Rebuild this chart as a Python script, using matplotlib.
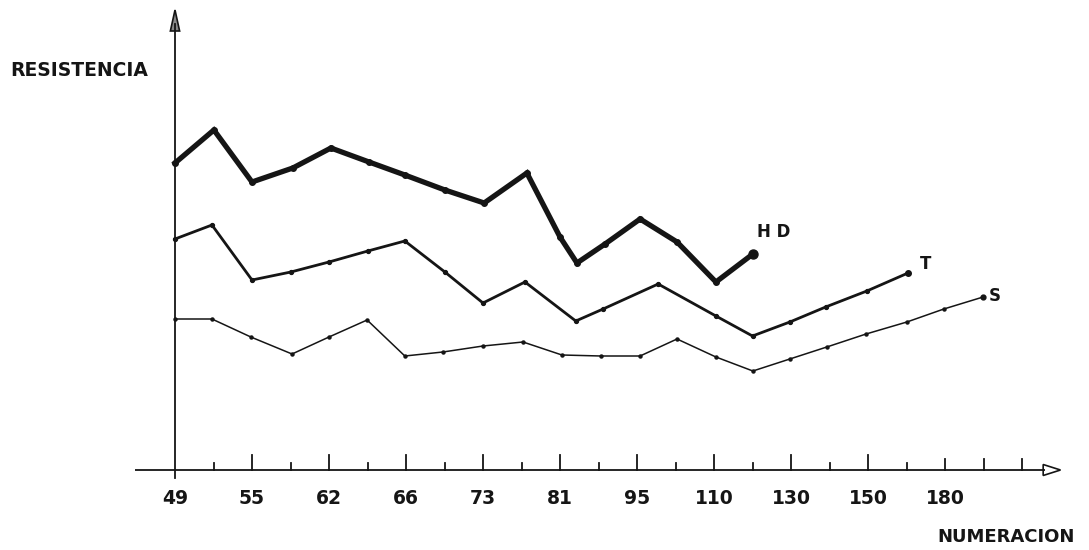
import matplotlib
matplotlib.use("Agg")
import matplotlib.pyplot as plt
from matplotlib.patches import Polygon

# ---- data (x in tick-index units, y in arbitrary resistance units) ----
tick_labels = ["49", "55", "62", "66", "73", "81", "95", "110", "130", "150", "180"]
n_ticks = 23  # tick marks along the x axis (labels on every second one)

hd_x = [0, 1.01, 2, 3.06, 4.05, 5.04, 5.97, 7.01, 8.03, 9.14, 10.0, 10.44, 11.17, 12.08, 13.04, 14.05, 15.01]
hd_y = [30.7, 34.0, 28.8, 30.2, 32.2, 30.8, 29.5, 28.0, 26.7, 29.7, 23.3, 20.7, 22.6, 25.1, 22.8, 18.8, 21.6]

t_x = [0, 0.96, 2.0, 3.01, 4.0, 5.01, 5.97, 7.01, 8.0, 9.09, 10.41, 11.12, 12.55, 14.05, 15.0, 15.97, 16.9, 17.97, 19.04]
t_y = [23.1, 24.5, 19.0, 19.8, 20.8, 21.9, 22.9, 19.8, 16.7, 18.8, 14.9, 16.1, 18.6, 15.4, 13.4, 14.8, 16.3, 17.9, 19.7]

s_x = [0, 0.96, 1.97, 3.04, 4.0, 4.99, 5.97, 6.96, 8.0, 9.04, 10.05, 11.06, 12.08, 13.04, 14.05, 15.01, 15.97, 16.93, 17.95, 19.01, 19.97, 20.99]
s_y = [15.1, 15.1, 13.3, 11.6, 13.3, 15.0, 11.4, 11.8, 12.4, 12.8, 11.5, 11.4, 11.4, 13.1, 11.3, 9.9, 11.1, 12.3, 13.6, 14.8, 16.1, 17.3]

# ---- figure ----
W, H = 1089, 550
fig = plt.figure(figsize=(W / 100, H / 100), dpi=100)
ax = fig.add_axes([0, 0, 1, 1])
px_per_x = 38.5
x0_px, y0_px, px_per_y = 175, 470, 10
ax.set_xlim(-x0_px / px_per_x, (W - x0_px) / px_per_x)
ax.set_ylim(-(H - y0_px) / px_per_y, y0_px / px_per_y)
ax.axis("off")

col = "#151515"
# axes lines
ax.plot([-1.04, 22.6], [0, 0], color=col, lw=1.3, solid_capstyle="butt")
ax.plot([0, 0], [-0.8, 44.6], color=col, lw=1.3)
# arrow heads
ax.add_patch(Polygon([[22.55, 0.55], [23.0, 0], [22.55, -0.55]], closed=True,
                     fill=False, edgecolor=col, lw=1.2))
ax.add_patch(Polygon([[-0.12, 43.9], [0, 46.0], [0.12, 43.9]], closed=True,
                     fill=True, facecolor="#888888", edgecolor=col, lw=1.2))

# ticks
for i in range(1, n_ticks):
    if i % 2 == 0 and i <= 18:
        h = 1.5
    elif i >= 20:
        h = 1.1
    else:
        h = 0.7
    ax.plot([i, i], [0, h], color=col, lw=1.3)
for k, lab in enumerate(tick_labels):
    ax.text(2 * k, -2.8, lab, ha="center", va="center", fontsize=13.5,
            fontweight="bold", color=col, family="DejaVu Sans")

# series
ax.plot(hd_x, hd_y, color=col, lw=3.8, marker="o", ms=4, solid_joinstyle="miter")
ax.plot(hd_x[-1], hd_y[-1], "o", color=col, ms=6.5)
ax.plot(t_x, t_y, color=col, lw=2.0, marker="o", ms=2.8)
ax.plot(t_x[-1], t_y[-1], "o", color=col, ms=4)
ax.plot(s_x, s_y, color=col, lw=1.1, marker="o", ms=2.2)
ax.plot(s_x[-1], s_y[-1], "o", color=col, ms=3.5)

# series labels
ax.text(hd_x[-1] + 0.1, hd_y[-1] + 2.2, "H D", fontsize=12, fontweight="bold",
        color=col, va="center", ha="left")
ax.text(t_x[-1] + 0.3, t_y[-1] + 0.9, "T", fontsize=12, fontweight="bold",
        color=col, va="center", ha="left")
ax.text(s_x[-1] + 0.15, s_y[-1] + 0.1, "S", fontsize=12, fontweight="bold",
        color=col, va="center", ha="left")

# axis titles
ax.text(-165 / px_per_x, 40.0, "RESISTENCIA", fontsize=13.5, fontweight="bold",
        color=col, va="center", ha="left")
ax.text(1075 / px_per_x - x0_px / px_per_x, -6.7, "NUMERACION", fontsize=13,
        fontweight="bold", color=col, va="center", ha="right")

fig.savefig("out.png", dpi=100, facecolor="white")
